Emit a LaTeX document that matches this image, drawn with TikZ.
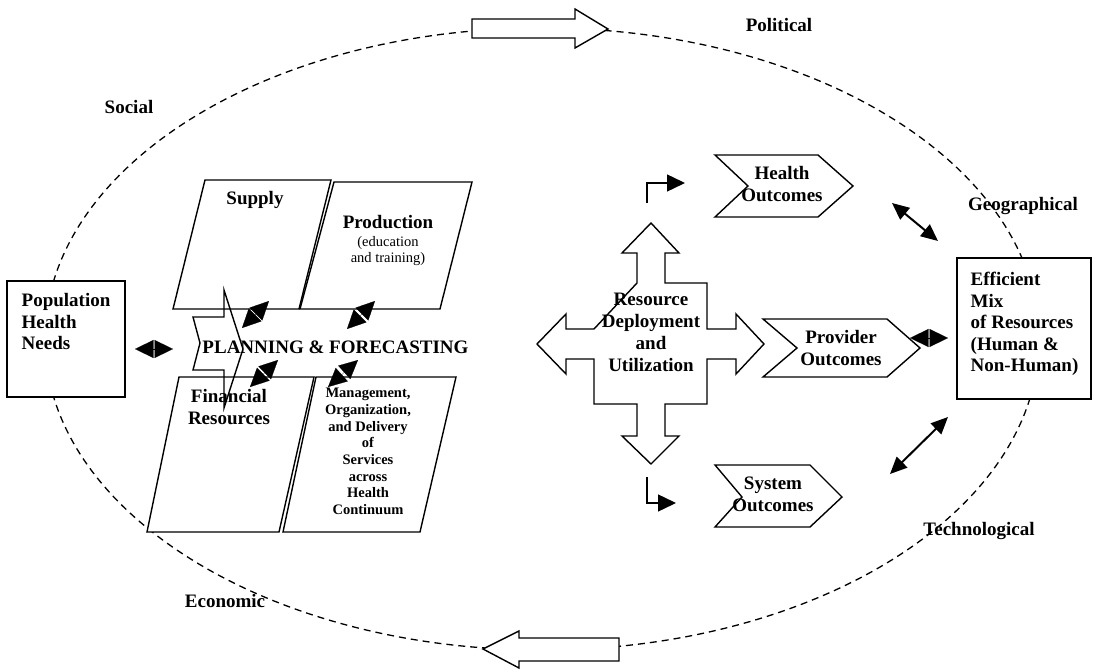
\documentclass[tikz,border=0pt]{standalone}
\usepackage{fontspec}
\setmainfont{Liberation Serif}
\usepackage{tikz}
\usetikzlibrary{positioning,arrows.meta}

\begin{document}
\begin{tikzpicture}[x=1pt,y=-1pt,line width=1.4pt,>={Triangle[length=17pt,width=15pt]}]
\tikzstyle{lbl}=[font=\fontsize{19}{21.5}\selectfont\bfseries,align=center,inner sep=0pt]
\tikzstyle{small}=[font=\fontsize{14.5}{16.7}\selectfont\bfseries,align=center,inner sep=0pt]
\tikzstyle{note}=[font=\fontsize{14.5}{16}\selectfont,align=center,inner sep=0pt]
\tikzstyle{box}=[rectangle,draw=black,fill=white,line width=2.2pt,inner sep=0pt]
\tikzstyle{outline}=[draw=black,fill=white,line width=1.4pt]
\tikzstyle{dbl}=[{Triangle[length=18.5pt,width=18pt]}-{Triangle[length=18.5pt,width=18pt]},line width=0.2pt]
\tikzstyle{link}=[<->,line width=2pt]
\tikzstyle{elbow}=[-{Triangle[length=18pt,width=17pt]},line width=1.4pt]
\useasboundingbox (0,0) rectangle (1093,671);

% environment
\draw[dash pattern=on 7pt off 5pt,line width=1.3pt] (542,339) ellipse [x radius=497,y radius=311];
\draw[outline] (472,19) -- (575,19) -- (575,9) -- (608,29) -- (575,48) -- (575,38) -- (472,38) -- cycle;
\draw[outline] (619,638) -- (519,638) -- (519,631) -- (483,649) -- (519,668) -- (519,661) -- (619,661) -- cycle;
\node[lbl] (political) at (779,25) {Political};
\node[lbl] (social) at (129,107) {Social};
\node[lbl] (geo) at (1023,206) {Geographical};
\node[lbl] (tech) at (979,531) {Technological};
\node[lbl] (econ) at (225,601) {Economic};

% end boxes
\node[box,minimum width=118pt,minimum height=116pt] (pop) at (66,339) {};
\node[lbl,align=left,anchor=north west] (poptext) at (21,293) {Population\\Health\\Needs};
\node[box,minimum width=134pt,minimum height=141pt] (mix) at (1024,328.5) {};
\node[lbl,align=left,anchor=north west] (mixtext) at (970,271.5) {Efficient\\Mix\\of Resources\\(Human \&\\Non-Human)};

% planning panels
\draw[outline] (173,309) -- (299,309) -- (331,180) -- (205,180) -- cycle;
\draw[outline] (300,309) -- (440,309) -- (472,182) -- (334,182) -- cycle;
\draw[outline] (147,532) -- (279,532) -- (314,377) -- (179,377) -- cycle;
\draw[outline] (283,532) -- (420,532) -- (456,377) -- (316,377) -- cycle;
\draw (193,317) -- (224,317) -- (224,290) -- (243,349) -- (224,408) -- (224,370) -- (193,370) -- (200,343) -- cycle;
\node[lbl] (supply) at (255,200) {Supply};
\node[lbl] (prod) at (388,222) {Production};
\node[note,below=6pt of prod] (prodsub) {(education\\and training)};
\node[lbl] (fin) at (229,407) {Financial\\Resources};
\node[small] (mgmt) at (368,451.5) {Management,\\Organization,\\and Delivery\\of\\Services\\across\\Health\\Continuum};
\node[lbl] (plan) at (335.5,347) {PLANNING \& FORECASTING};

% deployment cross
\draw[outline] (637,283) -- (637,253) -- (622,253) -- (651,223) -- (679,253) -- (665,253) -- (665,283)
  -- (707,283) -- (707,329) -- (736,329) -- (736,314) -- (764,344) -- (736,374) -- (736,359) -- (707,359)
  -- (707,404) -- (665,404) -- (665,436) -- (679,436) -- (651,464) -- (622,436) -- (637,436) -- (637,404)
  -- (594,404) -- (594,359) -- (566,359) -- (566,374) -- (537,344) -- (566,314) -- (566,329) -- (594,329) -- cycle;
\node[lbl,font=\fontsize{19}{22}\selectfont\bfseries] (rdu) at (651,332) {Resource\\Deployment\\and\\Utilization};

% outcomes
\draw[outline] (715,155) -- (818,155) -- (853,186) -- (818,217) -- (715,217) -- (748,186) -- cycle;
\draw[outline] (763,319) -- (887,319) -- (920,348) -- (887,377) -- (763,377) -- (797,348) -- cycle;
\draw[outline] (715,465) -- (810,465) -- (842,497) -- (810,527) -- (715,527) -- (742,497) -- cycle;
\node[lbl,font=\fontsize{19}{22}\selectfont\bfseries] (health) at (782,184) {Health\\Outcomes};
\node[lbl,font=\fontsize{19}{22}\selectfont\bfseries] (provider) at (841,348) {Provider\\Outcomes};
\node[lbl,font=\fontsize{19}{22}\selectfont\bfseries] (system) at (773,494) {System\\Outcomes};

% connectors
\coordinate (p1) at (135,349); \coordinate (p2) at (173,349);
\coordinate (m1) at (910,338); \coordinate (m2) at (948,338);
\coordinate (a1) at (242,328); \coordinate (a2) at (269,301);
\coordinate (b1) at (347,329); \coordinate (b2) at (375,301);
\coordinate (c1) at (278,360); \coordinate (c2) at (250,387);
\coordinate (d1) at (358,360); \coordinate (d2) at (328,387);
\draw[dbl] (p1) -- (p2);
\draw[dbl] (m1) -- (m2);
\draw[dbl] (a1) -- (a2);
\draw[dbl] (b1) -- (b2);
\draw[dbl] (c1) -- (c2);
\draw[dbl] (d1) -- (d2);
\coordinate (g1) at (892,203); \coordinate (g2) at (938,241);
\coordinate (t1) at (890,474); \coordinate (t2) at (948,417);
\draw[link] (g1) -- (g2);
\draw[link] (t1) -- (t2);
\coordinate (e1) at (647,203); \coordinate (e2) at (685,183);
\coordinate (e3) at (647,477); \coordinate (e4) at (676,503);
\draw[elbow] (e1) |- (e2);
\draw[elbow] (e3) |- (e4);
\end{tikzpicture}
\end{document}
